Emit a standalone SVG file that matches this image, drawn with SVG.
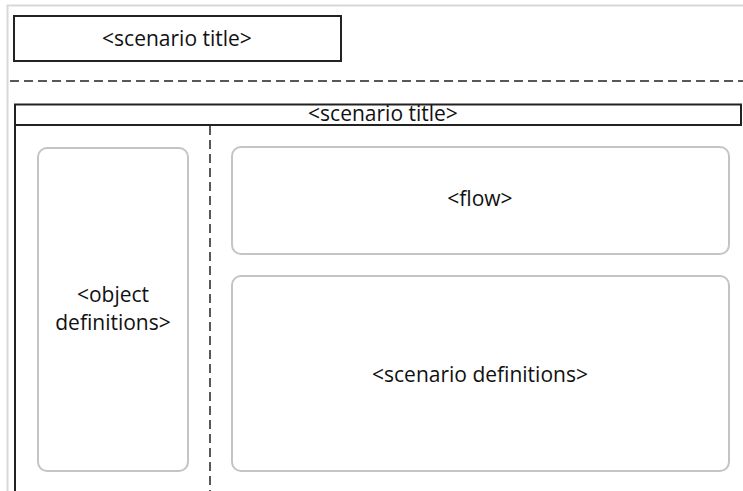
<svg xmlns="http://www.w3.org/2000/svg" width="743" height="491" viewBox="0 0 743 491">
<style>
text{font-family:"Open Sans","Liberation Sans",sans-serif;font-size:21px;fill:#111;text-anchor:middle}
.panel{fill:#fff;stroke:#c4c4c4;stroke-width:2}
.dash{stroke:#222;stroke-width:1.5;stroke-dasharray:9 5;fill:none}
</style>
<rect x="0" y="0" width="743" height="491" fill="#fff"/>
<path d="M7.5 491V5.5H743" fill="none" stroke="#d8d8d8" stroke-width="2"/>
<g id="top-title">
<rect x="14" y="16" width="327" height="45" fill="#fff" stroke="#222" stroke-width="2"/>
<text x="177" y="46">&lt;scenario title&gt;</text>
</g>
<g id="connectors">
<line class="dash" x1="10" y1="81" x2="743" y2="81"/>
<line class="dash" x1="210" y1="126" x2="210" y2="491"/>
</g>
<g id="frame">
<path d="M15 491V104.5H741V125H15" fill="none" stroke="#222" stroke-width="2"/>
<text x="383" y="121">&lt;scenario title&gt;</text>
</g>
<g id="object-definitions">
<rect class="panel" x="38" y="148" width="150" height="323" rx="9"/>
<text x="113" y="302">&lt;object</text>
<text x="113" y="330">definitions&gt;</text>
</g>
<g id="flow">
<rect class="panel" x="232" y="147" width="497" height="107" rx="9"/>
<text x="480" y="206">&lt;flow&gt;</text>
</g>
<g id="scenario-definitions">
<rect class="panel" x="232" y="276" width="497" height="195" rx="9"/>
<text x="480" y="382">&lt;scenario definitions&gt;</text>
</g>
</svg>
